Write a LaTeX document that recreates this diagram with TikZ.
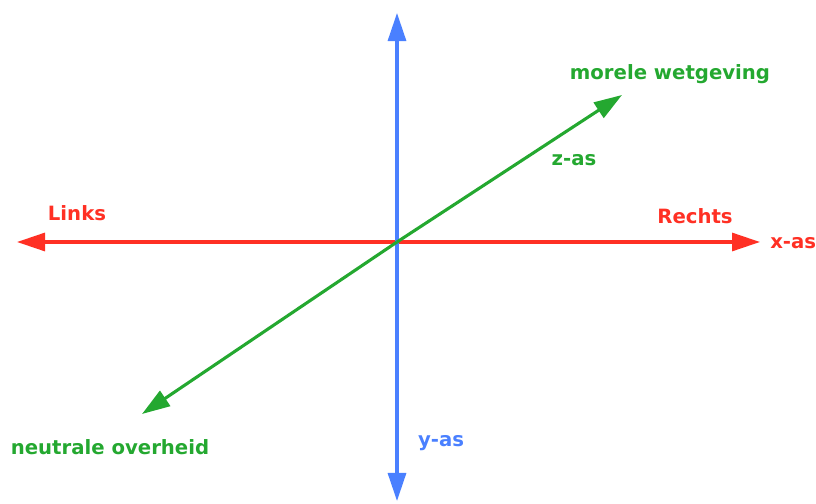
\documentclass[tikz,border=0pt]{standalone}
\usepackage{fontspec}
\setmainfont{DejaVu Sans}
\usetikzlibrary{arrows.meta}
\definecolor{axisRed}{RGB}{255,48,36}
\definecolor{axisGreen}{RGB}{36,168,48}
\definecolor{axisBlue}{RGB}{74,128,255}
\tikzset{
  axisline/.style={line width=2.2pt, -{Triangle[length=0.7cm,width=0.45cm]}},
  axislabel/.style={font=\fontsize{14}{16}\selectfont\bfseries, inner sep=0pt}
}

\begin{document}
\begin{tikzpicture}[x=0.025cm,y=-0.025cm]

%
\useasboundingbox (0,0) rectangle (816,504);

%
\coordinate (origin) at (397,242);
\coordinate (left) at (17,242);
\coordinate (right) at (760,242);
\coordinate (top) at (397,13);
\coordinate (bottom) at (397,501);
\coordinate (front) at (622,95);
\coordinate (back) at (142,414);

%
\draw[axisline, axisRed] (origin) -- (left);
\draw[axisline, axisRed] (origin) -- (right);

%
\draw[axisline, axisBlue] (origin) -- (top);
\draw[axisline, axisBlue] (origin) -- (bottom);

%
\draw[axisline, axisGreen] (origin) -- (front);
\draw[axisline, axisGreen] (origin) -- (back);

%
\node[axislabel, text=axisRed] (linksLabel) at (77,213) {Links};
\node[axislabel, text=axisRed] (rechtsLabel) at (695,216) {Rechts};
\node[axislabel, text=axisRed, anchor=west] (xLabel) at (770,243) {x-as};
\node[axislabel, text=axisBlue] (yLabel) at (441,443) {y-as};
\node[axislabel, text=axisGreen] (zLabel) at (574,160) {z-as};
\node[axislabel, text=axisGreen] (frontLabel) at (670,74) {morele wetgeving};
\node[axislabel, text=axisGreen] (backLabel) at (110,447) {neutrale overheid};

\end{tikzpicture}
\end{document}
